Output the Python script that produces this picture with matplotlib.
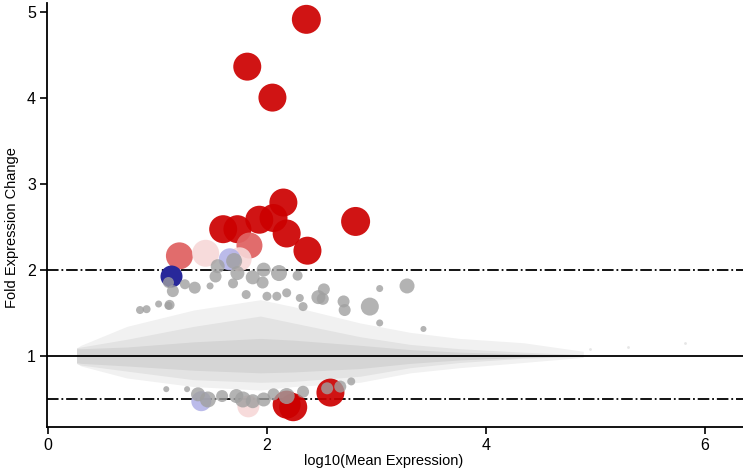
import numpy as np
import matplotlib
matplotlib.use("Agg")
import matplotlib.pyplot as plt

plt.rcParams['font.family'] = ['Liberation Sans', 'DejaVu Sans']

# background cloud of all genes, as envelopes
cloud_x = [0.26, 0.30, 0.72, 1.33, 1.94, 2.24, 2.85, 3.31, 3.76, 4.34, 4.89]
outer_hi = [1.09, 1.12, 1.34, 1.53, 1.65, 1.57, 1.38, 1.27, 1.20, 1.15, 1.05]
outer_lo = [0.91, 0.88, 0.74, 0.64, 0.60, 0.64, 0.69, 0.80, 0.86, 0.92, 0.98]
dense_hi = [1.09, 1.10, 1.19, 1.34, 1.46, 1.38, 1.22, 1.13, 1.08, 1.04, 1.01]
dense_lo = [0.91, 0.89, 0.82, 0.72, 0.69, 0.70, 0.76, 0.86, 0.92, 0.97, 0.99]
core_hi = [1.08, 1.08, 1.10, 1.16, 1.20, 1.18, 1.12, 1.07, 1.04, 1.02, 1.00]
core_lo = [0.92, 0.91, 0.88, 0.83, 0.80, 0.81, 0.85, 0.91, 0.95, 0.98, 1.00]
tail_x = [4.95, 5.30, 5.82]
tail_y = [1.08, 1.10, 1.15]

# significant genes (x = log10 mean expression, y = fold change, d = size)
red_x = [2.36, 1.82, 2.05, 2.15, 2.81, 1.93, 2.06, 1.60, 1.73, 2.18, 2.37, 2.18, 2.24, 2.58]
red_y = [4.91, 4.36, 4.00, 2.78, 2.56, 2.58, 2.60, 2.47, 2.47, 2.42, 2.22, 0.43, 0.40, 0.57]
red_d = [29, 28, 28, 28, 29, 28, 28, 28, 28, 28, 28, 28, 28, 28]

midred_x = [1.20, 1.84]
midred_y = [2.16, 2.28]
midred_d = [27, 26]

pink_x = [1.44, 1.75, 1.83]
pink_y = [2.19, 2.12, 0.41]
pink_d = [27, 24, 22]

blue_x = [1.12]
blue_y = [1.93]
blue_d = [22]

ltblue_x = [1.66, 1.40]
ltblue_y = [2.12, 0.47]
ltblue_d = [22, 20]

grey_x = [1.10, 1.14, 1.25, 1.34, 1.55, 1.53, 1.70, 1.73, 1.69, 1.87, 1.97, 1.96,
          2.11, 2.28, 2.52, 2.47, 2.94, 3.28, 2.70, 2.71, 2.18, 2.00, 3.03, 1.48,
          1.01, 1.10, 2.30, 2.09, 1.81, 2.33, 0.84, 0.90, 1.11, 3.03, 3.43, 2.51,
          1.37, 1.46, 1.59, 1.72, 1.78, 1.87, 1.97, 2.06, 2.18, 2.33, 2.55, 2.67,
          2.77, 1.08, 1.27]
grey_y = [1.85, 1.75, 1.83, 1.79, 2.04, 1.92, 2.10, 1.96, 1.84, 1.91, 2.00, 1.85,
          1.96, 1.93, 1.77, 1.68, 1.57, 1.81, 1.63, 1.53, 1.73, 1.69, 1.78, 1.81,
          1.60, 1.58, 1.67, 1.69, 1.71, 1.57, 1.53, 1.54, 1.59, 1.38, 1.31, 1.66,
          0.55, 0.49, 0.53, 0.53, 0.49, 0.47, 0.49, 0.55, 0.53, 0.58, 0.62, 0.64,
          0.70, 0.61, 0.61]
grey_d = [11, 12, 10, 12, 14, 12, 16, 14, 10, 14, 14, 12,
          16, 10, 12, 14, 18, 15, 12, 12, 9, 9, 7, 7,
          7, 8, 8, 9, 9, 9, 8, 8, 10, 7, 6, 12,
          14, 16, 12, 14, 16, 14, 14, 12, 16, 12, 12, 12,
          8, 6, 6]

DPI = 100


def sz(d):
    return (np.array(d) * 72.0 / DPI) ** 2


fig = plt.figure(figsize=(7.43, 4.74), dpi=DPI)
ax = fig.add_axes([47 / 743, 47 / 474, 696 / 743, 424 / 474])

ax.fill_between(cloud_x, outer_lo, outer_hi, color='#f1f1f1', lw=0, zorder=1)
ax.fill_between(cloud_x, dense_lo, dense_hi, color='#e3e3e3', lw=0, zorder=1)
ax.fill_between(cloud_x, core_lo, core_hi, color='#d5d5d5', lw=0, zorder=1)
ax.scatter(tail_x, tail_y, s=4, color='#e6e6e6', lw=0, zorder=1)

ax.axhline(1, color='black', lw=1.3, zorder=2)
ax.axhline(2, color='black', lw=1.3, ls='-.', zorder=2)
ax.axhline(0.5, color='black', lw=1.3, ls='-.', zorder=2)

ax.scatter(red_x, red_y, s=sz(red_d), color='#cc0000', alpha=0.92, lw=0, zorder=3)
ax.scatter(midred_x, midred_y, s=sz(midred_d), color='#e06464', alpha=0.95, lw=0, zorder=3)
ax.scatter(pink_x, pink_y, s=sz(pink_d), color='#f7d8d8', alpha=0.9, lw=0, zorder=3)
ax.scatter(blue_x, blue_y, s=sz(blue_d), color='#28289a', lw=0, zorder=3)
ax.scatter(ltblue_x, ltblue_y, s=sz(ltblue_d), color='#b4b4e8', alpha=0.9, lw=0, zorder=3)
ax.scatter(grey_x, grey_y, s=sz(grey_d), color='#a0a0a0', alpha=0.8, lw=0, zorder=4)

ax.set_xlim(-0.01, 6.35)
ax.set_ylim(0.17, 5.1)
ax.set_xticks([0, 2, 4, 6])
ax.set_yticks([1, 2, 3, 4, 5])
ax.tick_params(direction='out', length=5, width=1.2, labelsize=11.5, pad=3)
ax.spines['top'].set_visible(False)
ax.spines['right'].set_visible(False)
ax.spines['left'].set_linewidth(1.3)
ax.spines['bottom'].set_linewidth(1.3)
ax.set_xlabel('log10(Mean Expression)', fontsize=10.5)
ax.set_ylabel('Fold Expression Change', fontsize=10.5)
ax.xaxis.set_label_coords(0.483, -0.064)
ax.yaxis.set_label_coords(-0.040, 0.47)

fig.savefig('out.png', dpi=DPI)
